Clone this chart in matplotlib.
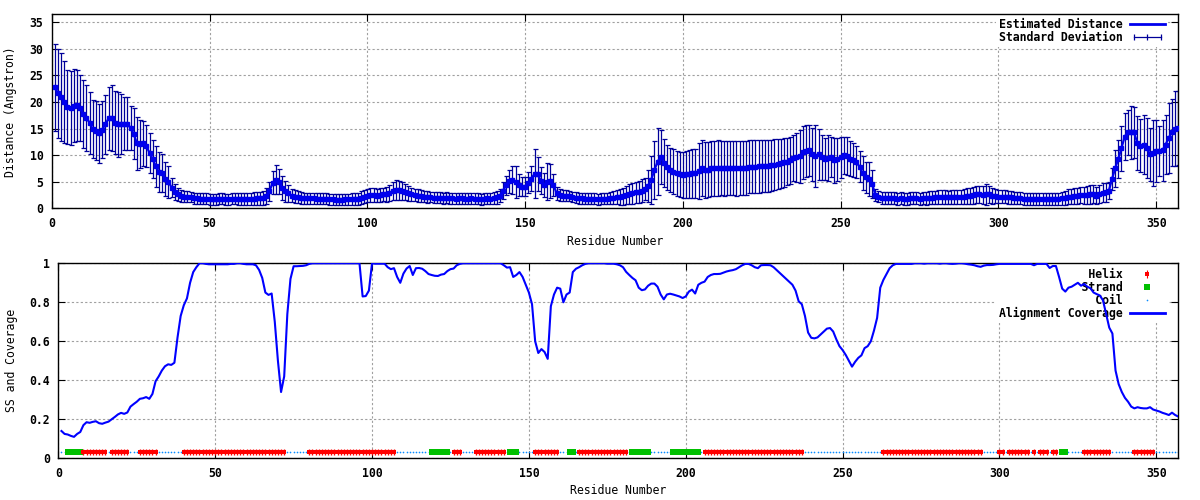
import matplotlib
matplotlib.use("Agg")
import matplotlib.pyplot as plt
import numpy as np
from matplotlib.lines import Line2D
from matplotlib.legend_handler import HandlerLine2D, HandlerTuple
from matplotlib.ticker import FuncFormatter

# residue numbering 1..357
residues = np.arange(1, 358)

# estimated distance (Angstrom)
distance = [
    22.8, 21.6, 21.0, 20.0, 19.1, 18.9, 19.3, 19.4, 18.8, 17.7,
    17.0, 16.1, 14.9, 14.6, 14.1, 14.8, 15.8, 16.9, 17.0, 16.1,
    15.8, 15.9, 15.9, 15.9, 15.1, 14.0, 12.2, 12.1, 12.2, 11.7,
    10.4, 9.3, 7.9, 6.8, 6.6, 5.5, 5.0, 3.9, 3.1, 2.6,
    2.3, 2.2, 2.2, 2.1, 1.9, 1.9, 1.8, 1.8, 1.8, 1.7,
    1.7, 1.7, 1.8, 1.8, 1.7, 1.7, 1.8, 1.8, 1.8, 1.8,
    1.7, 1.8, 1.7, 1.8, 1.9, 1.9, 2.0, 2.4, 3.2, 4.8,
    5.4, 5.0, 3.8, 3.2, 2.8, 2.4, 2.2, 2.1, 2.0, 1.9,
    1.9, 1.9, 1.9, 1.8, 1.8, 1.8, 1.8, 1.7, 1.7, 1.6,
    1.6, 1.6, 1.7, 1.7, 1.8, 1.7, 1.8, 2.0, 2.2, 2.4,
    2.5, 2.5, 2.4, 2.5, 2.6, 2.6, 2.8, 3.2, 3.4, 3.4,
    3.3, 3.0, 2.8, 2.6, 2.5, 2.4, 2.3, 2.2, 2.1, 2.1,
    2.0, 2.0, 2.0, 1.9, 2.0, 1.9, 1.9, 1.8, 1.9, 1.9,
    1.8, 1.8, 1.9, 1.8, 1.8, 1.7, 1.8, 1.9, 1.8, 2.0,
    2.1, 2.4, 3.3, 4.3, 5.1, 5.3, 5.0, 4.4, 4.1, 4.1,
    4.8, 5.6, 6.5, 6.4, 5.2, 4.4, 5.0, 5.2, 4.4, 2.8,
    2.5, 2.4, 2.4, 2.3, 2.1, 2.0, 1.9, 1.9, 1.8, 1.8,
    1.8, 1.8, 1.7, 1.8, 1.8, 1.8, 1.9, 2.0, 2.1, 2.2,
    2.3, 2.5, 2.7, 2.8, 3.0, 3.1, 3.3, 3.6, 4.2, 5.4,
    7.2, 8.8, 9.6, 8.6, 7.7, 7.2, 6.9, 6.6, 6.4, 6.3,
    6.4, 6.5, 6.6, 6.6, 7.0, 7.6, 7.2, 7.3, 7.5, 7.5,
    7.6, 7.6, 7.5, 7.6, 7.6, 7.6, 7.5, 7.6, 7.6, 7.6,
    7.8, 7.8, 7.8, 7.9, 7.9, 7.9, 8.0, 8.1, 8.2, 8.3,
    8.5, 8.7, 8.8, 9.0, 9.5, 9.6, 9.8, 10.5, 10.8, 10.9,
    10.2, 9.9, 10.2, 9.6, 9.3, 9.4, 9.6, 9.0, 9.2, 9.6,
    10.0, 9.9, 9.3, 9.0, 8.7, 7.8, 6.6, 5.8, 5.5, 4.6,
    2.5, 2.2, 2.0, 1.9, 1.9, 1.9, 1.9, 1.8, 1.9, 1.8,
    1.8, 1.9, 1.9, 1.9, 1.8, 1.9, 1.9, 2.0, 2.0, 2.1,
    2.1, 2.2, 2.2, 2.1, 2.2, 2.2, 2.1, 2.1, 2.2, 2.3,
    2.4, 2.5, 2.6, 2.6, 2.5, 2.6, 2.6, 2.4, 2.3, 2.2,
    2.2, 2.2, 2.1, 2.1, 2.0, 1.9, 1.9, 1.8, 1.8, 1.8,
    1.7, 1.7, 1.8, 1.7, 1.7, 1.7, 1.8, 1.8, 1.8, 1.9,
    2.0, 2.2, 2.2, 2.3, 2.4, 2.5, 2.5, 2.5, 2.6, 2.7,
    2.4, 2.7, 2.9, 3.0, 3.3, 5.5, 7.5, 9.3, 11.3, 13.5,
    14.3, 14.3, 14.3, 12.3, 11.8, 12.0, 11.3, 10.2, 10.4, 10.8,
    10.7, 10.9, 12.0, 13.3, 14.3, 15.0, 15.1,
]

# standard deviation of the estimate
std_dev = [
    8.2, 8.3, 8.3, 7.8, 7.0, 7.0, 6.9, 6.7, 6.2, 6.4,
    6.2, 5.8, 5.4, 5.6, 5.5, 5.4, 5.5, 6.0, 6.2, 5.9,
    6.1, 5.6, 5.0, 5.0, 4.2, 4.8, 4.9, 4.5, 4.3, 4.0,
    3.8, 3.6, 3.8, 3.8, 3.6, 3.2, 3.0, 1.8, 1.5, 1.2,
    1.1, 1.1, 1.0, 1.0, 1.0, 1.0, 1.0, 1.0, 1.0, 1.0,
    1.0, 1.0, 1.0, 1.0, 1.0, 1.0, 1.0, 1.0, 1.1, 1.1,
    1.1, 1.1, 1.1, 1.2, 1.2, 1.2, 1.3, 1.5, 1.8, 2.2,
    2.7, 2.4, 2.2, 2.0, 1.6, 1.3, 1.2, 1.1, 1.1, 1.0,
    1.0, 1.0, 1.0, 1.0, 1.0, 1.0, 1.0, 1.0, 1.0, 1.0,
    1.0, 1.0, 1.0, 1.0, 1.1, 1.1, 1.1, 1.2, 1.2, 1.2,
    1.3, 1.3, 1.3, 1.3, 1.3, 1.4, 1.5, 1.7, 1.9, 1.8,
    1.7, 1.5, 1.4, 1.3, 1.2, 1.2, 1.1, 1.1, 1.1, 1.0,
    1.0, 1.0, 1.0, 1.0, 1.0, 1.0, 1.0, 1.0, 1.0, 1.0,
    1.0, 1.0, 1.0, 1.0, 1.0, 1.0, 1.0, 1.0, 1.0, 1.1,
    1.2, 1.3, 1.6, 1.8, 2.2, 2.6, 3.0, 2.0, 1.8, 1.7,
    2.0, 2.4, 4.6, 3.2, 2.6, 2.2, 3.5, 3.2, 2.0, 1.2,
    1.2, 1.1, 1.1, 1.0, 1.0, 1.0, 1.0, 1.0, 1.0, 1.0,
    1.0, 1.0, 1.0, 1.0, 1.0, 1.0, 1.1, 1.2, 1.3, 1.5,
    1.6, 1.7, 1.9, 2.0, 2.0, 2.1, 2.2, 2.1, 3.0, 4.5,
    5.5, 6.3, 5.1, 4.5, 4.3, 4.2, 4.2, 4.2, 4.2, 4.3,
    4.4, 4.5, 4.6, 4.6, 5.2, 5.3, 5.3, 5.2, 5.2, 5.2,
    5.2, 5.1, 5.2, 5.1, 5.1, 5.1, 5.1, 5.1, 5.1, 5.1,
    5.0, 5.0, 5.0, 5.0, 4.9, 4.9, 4.9, 4.8, 4.8, 4.7,
    4.6, 4.6, 4.5, 4.5, 4.3, 4.6, 5.0, 5.0, 4.9, 4.8,
    5.0, 5.8, 4.8, 4.2, 4.0, 4.3, 3.8, 4.3, 4.0, 3.9,
    3.5, 3.6, 3.3, 3.2, 3.0, 2.9, 3.2, 3.0, 3.2, 2.6,
    1.2, 1.1, 1.1, 1.1, 1.1, 1.1, 1.1, 1.1, 1.1, 1.1,
    1.1, 1.1, 1.1, 1.1, 1.1, 1.1, 1.2, 1.2, 1.2, 1.2,
    1.3, 1.3, 1.3, 1.2, 1.3, 1.3, 1.3, 1.3, 1.4, 1.5,
    1.5, 1.6, 1.6, 1.6, 1.7, 1.9, 1.6, 1.5, 1.3, 1.2,
    1.2, 1.2, 1.2, 1.2, 1.1, 1.1, 1.1, 1.1, 1.1, 1.1,
    1.1, 1.1, 1.1, 1.1, 1.1, 1.1, 1.1, 1.1, 1.1, 1.2,
    1.3, 1.4, 1.4, 1.5, 1.5, 1.5, 1.6, 1.7, 1.7, 1.7,
    1.6, 1.7, 1.8, 1.8, 1.6, 2.0, 3.5, 3.6, 4.2, 4.5,
    4.2, 5.0, 4.8, 5.1, 5.0, 5.6, 5.6, 5.0, 6.2, 5.8,
    4.7, 5.8, 5.5, 6.6, 6.3, 7.0, 7.0,
]

# alignment coverage
coverage = [
    0.14, 0.125, 0.122, 0.115, 0.11, 0.125, 0.135, 0.17, 0.185, 0.182,
    0.187, 0.19, 0.18, 0.177, 0.183, 0.188, 0.2, 0.212, 0.225, 0.233,
    0.228, 0.235, 0.265, 0.278, 0.29, 0.305, 0.308, 0.314, 0.305, 0.33,
    0.395, 0.42, 0.45, 0.472, 0.482, 0.479, 0.49, 0.62, 0.73, 0.785,
    0.82, 0.9, 0.955, 0.98, 1.0, 1.0, 0.997, 0.995, 0.995, 0.995,
    0.995, 0.995, 0.995, 0.995, 0.997, 0.997, 1.0, 1.0, 0.997, 0.995,
    0.995, 0.995, 0.99, 0.966, 0.925, 0.85, 0.838, 0.845, 0.7, 0.5,
    0.34, 0.42, 0.74, 0.92, 0.985, 0.985, 0.986, 0.987, 0.99, 0.997,
    1.0, 1.0, 1.0, 1.0, 1.0, 1.0, 1.0, 1.0, 1.0, 1.0,
    1.0, 1.0, 1.0, 1.0, 1.0, 1.0, 0.83, 0.832, 0.86, 1.0,
    0.998, 0.998, 0.998, 0.998, 0.98, 0.97, 0.975, 0.93, 0.9, 0.947,
    0.973, 0.986, 0.94, 0.975, 0.976, 0.972, 0.96, 0.945, 0.94, 0.936,
    0.935, 0.942, 0.945, 0.96, 0.97, 0.973, 0.99, 0.997, 1.0, 1.0,
    1.0, 1.0, 1.0, 1.0, 1.0, 1.0, 1.0, 1.0, 1.0, 1.0,
    1.0, 0.99, 0.978, 0.98, 0.93, 0.94, 0.955, 0.93, 0.89, 0.85,
    0.79, 0.6, 0.54, 0.56, 0.545, 0.51, 0.78, 0.84, 0.875, 0.87,
    0.8, 0.84, 0.85, 0.955, 0.972, 0.98, 0.99, 0.997, 1.0, 1.0,
    1.0, 1.0, 1.0, 1.0, 0.998, 0.998, 0.998, 0.995, 0.99, 0.98,
    0.956, 0.94, 0.925, 0.913, 0.875, 0.862, 0.866, 0.885, 0.896, 0.896,
    0.88, 0.84, 0.815, 0.84, 0.844, 0.84, 0.835, 0.83, 0.822, 0.83,
    0.855, 0.865, 0.845, 0.89, 0.9, 0.906, 0.93, 0.94, 0.945, 0.945,
    0.946, 0.952, 0.958, 0.962, 0.965, 0.97, 0.98, 0.99, 0.997, 0.997,
    0.99, 0.98, 0.975, 0.99, 0.991, 0.991, 0.99, 0.98, 0.965, 0.95,
    0.935, 0.92, 0.905, 0.89, 0.86, 0.805, 0.79, 0.73, 0.645, 0.618,
    0.615, 0.62, 0.635, 0.65, 0.665, 0.668, 0.65, 0.61, 0.575, 0.555,
    0.53, 0.5, 0.47, 0.495, 0.515, 0.528, 0.565, 0.575, 0.6, 0.655,
    0.72, 0.875, 0.915, 0.945, 0.975, 0.99, 0.997, 0.997, 0.997, 0.997,
    0.997, 0.997, 1.0, 1.0, 1.0, 0.998, 1.0, 1.0, 1.0, 1.0,
    0.998, 1.0, 1.0, 0.998, 0.997, 0.998, 1.0, 1.0, 0.998, 0.995,
    0.993, 0.99, 0.985, 0.982, 0.988, 0.991, 0.991, 0.992, 0.995, 0.997,
    0.997, 0.997, 0.997, 0.997, 0.997, 0.997, 0.997, 0.997, 0.997, 0.997,
    0.99, 0.997, 0.997, 0.997, 0.997, 0.976, 0.986, 0.986, 0.93, 0.87,
    0.855, 0.875, 0.88, 0.89, 0.9, 0.885, 0.894, 0.88, 0.872, 0.85,
    0.842, 0.835, 0.81, 0.74, 0.67, 0.64, 0.45, 0.38, 0.34, 0.31,
    0.29, 0.265, 0.256, 0.262, 0.258, 0.256, 0.256, 0.262, 0.25, 0.245,
    0.24, 0.233, 0.228, 0.222, 0.234, 0.222, 0.214,
]

# secondary structure segments (first, last residue)
helix_ranges = [(8, 15), (17, 22), (26, 31), (40, 72), (80, 107), (126, 128),
                (133, 142), (152, 159), (166, 181), (206, 237), (263, 294),
                (300, 301), (303, 309), (311, 311), (313, 315), (317, 318),
                (327, 335), (343, 349)]
strand_ranges = [(3, 7), (119, 124), (144, 146), (163, 164), (183, 188),
                 (196, 204), (320, 321)]
ss_level = 0.03


def expand(ranges):
    return np.concatenate([np.arange(a, b + 1) for a, b in ranges])


helix = expand(helix_ranges)
strand = expand(strand_ranges)
coil = np.setdiff1d(residues, np.concatenate([helix, strand]))

plt.rcParams['font.family'] = ['DejaVu Sans Mono']
plt.rcParams['font.weight'] = 'bold'
plt.rcParams['font.size'] = 8.3

fig = plt.figure(figsize=(12, 5), dpi=100)
ax1 = fig.add_axes([0.0431, 0.5834, 0.9388, 0.388])
ax2 = fig.add_axes([0.0486, 0.0834, 0.9333, 0.39])


def style(ax):
    ax.set_xlim(0, 357)
    ax.set_xticks(range(0, 351, 50))
    ax.tick_params(direction='in', length=5, width=0.8, top=True, right=True,
                   pad=6, labelsize=8.3)
    ax.grid(True, color='#a0a0a0', lw=0.8, ls=(0, (2, 2)))
    ax.set_axisbelow(True)
    for s in ax.spines.values():
        s.set_linewidth(1.0)


legend_kw = dict(loc='upper right', markerfirst=False, handlelength=3,
                 handletextpad=0.6, labelspacing=0.0, borderpad=0.3,
                 borderaxespad=0.0, fancybox=False, framealpha=1,
                 edgecolor='none')

# upper panel: distance with std-dev bars
ax1.errorbar(residues, distance, yerr=std_dev, fmt='none', ecolor='#000099',
             elinewidth=0.9, capsize=1.8, capthick=0.9, zorder=2)
ax1.plot(residues, distance, color='#0000ee', lw=1.6, marker='s', ms=2.2,
         zorder=3)
style(ax1)
ax1.set_ylim(0, 36.5)
ax1.set_yticks(range(0, 36, 5))
ax1.set_ylabel('Distance (Angstron)')
ax1.yaxis.set_label_coords(-0.0363, 0.5)
ax1.yaxis.label.set_va('center')
ax1.set_xlabel('Residue Number')
ax1.xaxis.set_label_coords(0.5, -0.1686)
ax1.xaxis.label.set_va('center')

h_dist = Line2D([], [], color='#0000ee', lw=2)
h_sd = Line2D([], [], color='#000099', lw=0.9, marker='|', ms=5, mew=0.9)
leg1 = ax1.legend([h_dist, h_sd], ['Estimated Distance', 'Standard Deviation'],
                  bbox_to_anchor=(0.991, 1.0),
                  handler_map={h_sd: HandlerLine2D(numpoints=3)}, **legend_kw)
leg1.set_zorder(1)

# lower panel: secondary structure and alignment coverage
ax2.plot(coil, np.full(len(coil), ss_level), ls='none', marker='o', ms=1.2,
         mew=0, color='#0a8cff', zorder=2)
ax2.plot(strand, np.full(len(strand), ss_level), ls='none', marker='s', ms=5,
         mew=0, color='#00c000', zorder=2)
ax2.plot(helix, np.full(len(helix), ss_level), ls='none', marker='|', ms=4.8,
         mew=1.0, color='#ff0000', zorder=2)
ax2.plot(helix, np.full(len(helix), ss_level), ls='none', marker='s', ms=3.4,
         mew=0, color='#ff0000', zorder=2)
ax2.plot(residues, coverage, color='#0000ff', lw=1.5, zorder=3)
style(ax2)
ax2.set_ylim(0, 1)
ax2.set_yticks([0, 0.2, 0.4, 0.6, 0.8, 1.0])
ax2.yaxis.set_major_formatter(FuncFormatter(lambda v, p: f'{v:g}'))
ax2.set_ylabel('SS and Coverage')
ax2.yaxis.set_label_coords(-0.042, 0.5)
ax2.yaxis.label.set_va('center')
ax2.set_xlabel('Residue Number')
ax2.xaxis.set_label_coords(0.5, -0.1626)
ax2.xaxis.label.set_va('center')

h_helix = (Line2D([], [], ls='none', marker='|', ms=5.5, mew=0.8, color='#ff0000'),
           Line2D([], [], ls='none', marker='s', ms=3.4, mew=0, color='#ff0000'))
h_strand = Line2D([], [], ls='none', marker='s', ms=5, mew=0, color='#00c000')
h_coil = Line2D([], [], ls='none', marker='o', ms=1.2, mew=0, color='#0a8cff')
h_cov = Line2D([], [], color='#0000ff', lw=2)
labels2 = ['Helix', 'Strand', 'Coil', 'Alignment Coverage']
width = max(len(s) for s in labels2)
leg2 = ax2.legend([h_helix, h_strand, h_coil, h_cov],
                  [s.rjust(width) for s in labels2],
                  bbox_to_anchor=(0.991, 0.995),
                  handler_map={tuple: HandlerTuple(ndivide=1)}, **legend_kw)
leg2.set_zorder(1)

fig.savefig('out.png', dpi=100)
